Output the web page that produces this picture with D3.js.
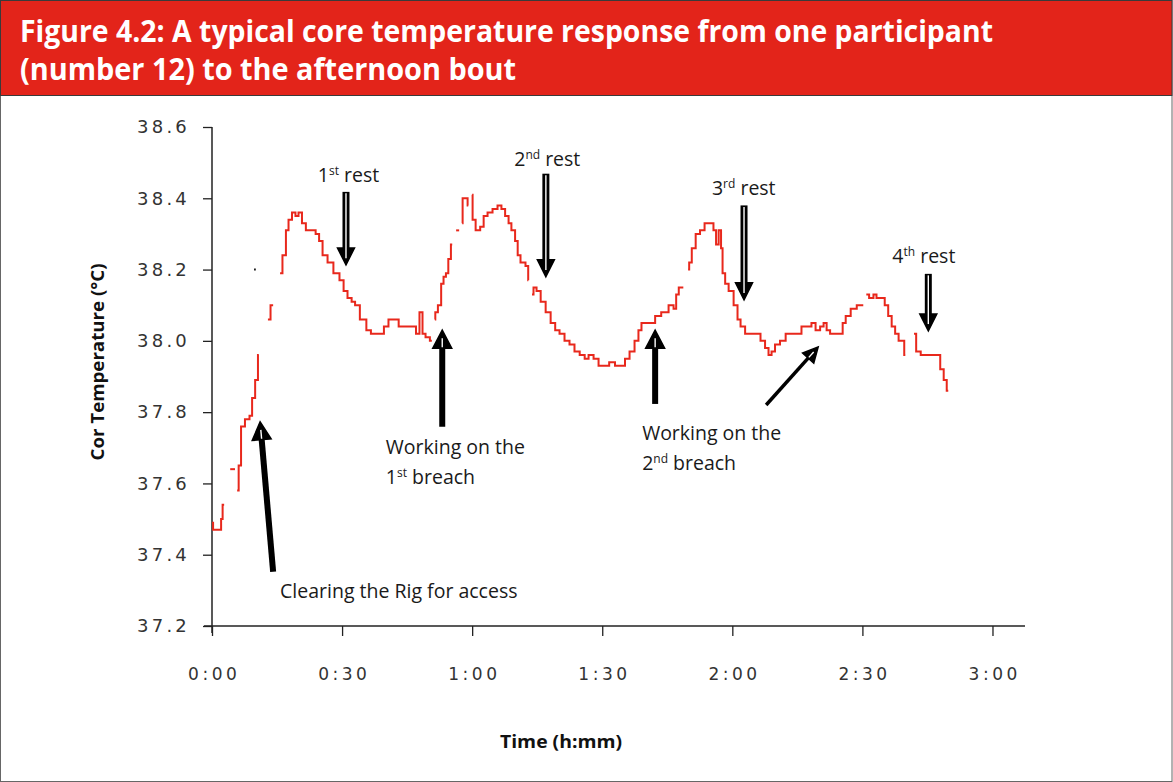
<!DOCTYPE html>
<html>
<head>
<meta charset="utf-8">
<script src="https://cdn.jsdelivr.net/npm/d3@7"></script>
<style>
  body { margin: 0; background: #fff; }
  .tick text { font-family: "DejaVu Sans", sans-serif; fill: #333; }
</style>
</head>
<body>
<svg id="chart" width="1173" height="782"></svg>
<script>
// title
const titleLines = [
  "Figure 4.2: A typical core temperature response from one participant",
  "(number 12) to the afternoon bout"
];

// axis ticks
const yTicks = [37.2, 37.4, 37.6, 37.8, 38.0, 38.2, 38.4, 38.6];
const xTicks = [0, 30, 60, 90, 120, 150, 180];   // minutes
const xTickLabels = ["0:00", "0:30", "1:00", "1:30", "2:00", "2:30", "3:00"];

// core temperature logger trace, [minutes, °C], broken where the logger dropped out
const coreTemp = [
  [[0, 37.49], [0.5, 37.47], [2.1, 37.47], [2.1, 37.50], [2.8, 37.54]],
  [[4.2, 37.64], [5.3, 37.64]],
  [[5.8, 37.58], [6.5, 37.65], [6.9, 37.76], [8.3, 37.78], [9.0, 37.79], [9.5, 37.84], [10.4, 37.89], [10.8, 37.96]],
  [[12.9, 38.06], [14.1, 38.10]],
  [[15.7, 38.19], [16.8, 38.24], [17.3, 38.31], [18.0, 38.34], [18.9, 38.36], [19.6, 38.35], [20.3, 38.36],
   [21.2, 38.33], [22.1, 38.31], [23.3, 38.31], [24.5, 38.30], [24.9, 38.28], [26.1, 38.24], [27.2, 38.22],
   [28.8, 38.19], [30.0, 38.17], [30.7, 38.14], [31.8, 38.12], [32.6, 38.11], [33.4, 38.10], [34.8, 38.06],
   [36.4, 38.03], [36.9, 38.02], [39.4, 38.02], [39.9, 38.04], [41.5, 38.06], [42.7, 38.06], [43.4, 38.04],
   [46.8, 38.04], [47.3, 38.02], [48.4, 38.08], [48.7, 38.02], [49.8, 38.01], [50.7, 38.00]],
  [[51.4, 38.06], [51.6, 38.08], [52.6, 38.10], [53.1, 38.16], [53.7, 38.18], [54.2, 38.19], [54.8, 38.23], [55.4, 38.27]],
  [[56.3, 38.31], [57.0, 38.31]],
  [[57.7, 38.33], [57.9, 38.40], [58.8, 38.40], [59.1, 38.38]],
  [[60.0, 38.41], [60.2, 38.34], [61.4, 38.31], [62.3, 38.32], [63.0, 38.35], [64.1, 38.36], [65.3, 38.37],
   [66.4, 38.38], [67.1, 38.37], [68.1, 38.35], [68.7, 38.33], [69.4, 38.31], [70.4, 38.28], [70.6, 38.24],
   [71.7, 38.22], [72.9, 38.21], [72.95, 38.17]],
  [[73.8, 38.13], [74.5, 38.15], [75.2, 38.14], [76.4, 38.11], [77.5, 38.08], [78.7, 38.05], [79.6, 38.03],
   [80.7, 38.02], [81.9, 38.00], [83.0, 37.99], [84.2, 37.97], [85.4, 37.96], [86.5, 37.95], [87.2, 37.96],
   [88.8, 37.95], [89.5, 37.93], [90.7, 37.93], [92.5, 37.94], [93.4, 37.93], [94.8, 37.93], [95.7, 37.95],
   [96.9, 37.97], [98.0, 38.00], [98.7, 38.03], [99.4, 38.05], [101.7, 38.05], [102.7, 38.07], [104.5, 38.08],
   [106.1, 38.10], [106.8, 38.09], [107.3, 38.13], [108.0, 38.15], [108.7, 38.15]],
  [[109.8, 38.20], [110.3, 38.22], [111.0, 38.26], [112.1, 38.30], [113.0, 38.31], [114.2, 38.33], [115.3, 38.33],
   [116.0, 38.31], [116.5, 38.27], [117.2, 38.31], [117.6, 38.26], [117.9, 38.19], [118.8, 38.16], [119.5, 38.14],
   [121.1, 38.10], [121.3, 38.06], [122.5, 38.04], [123.4, 38.02], [125.9, 38.02], [127.1, 38.00], [128.0, 37.98],
   [128.7, 37.96], [129.4, 37.97], [130.3, 37.99], [131.7, 38.00], [132.9, 38.02], [135.6, 38.02], [136.3, 38.04],
   [137.9, 38.04], [138.6, 38.05], [139.8, 38.03], [140.7, 38.04], [141.4, 38.05], [142.1, 38.03], [143.0, 38.02],
   [145.3, 38.02], [145.6, 38.05], [146.7, 38.07], [147.9, 38.09], [149.5, 38.10], [150.2, 38.10]],
  [[150.9, 38.13], [152.2, 38.12], [152.9, 38.13], [153.6, 38.12], [154.8, 38.12], [155.5, 38.10], [156.4, 38.07],
   [157.1, 38.04], [158.0, 38.02], [158.7, 38.00], [159.4, 38.00], [159.9, 37.96]],
  [[161.9, 38.02], [162.9, 37.97], [164.0, 37.96], [165.2, 37.96], [166.3, 37.96], [167.5, 37.96], [168.4, 37.92],
   [169.1, 37.89], [169.8, 37.86]]
];

// stray black mark near 0:10
const strayMarks = [[9.7, 38.20], [10.1, 38.20]];

// annotation text, anchored in data units (minutes, °C) at the first baseline
const notes = [
  { m: 24.4, t: 38.446, lines: [["1", "st", " rest"]] },
  { m: 69.7, t: 38.490, lines: [["2", "nd", " rest"]] },
  { m: 115.3, t: 38.408, lines: [["3", "rd", " rest"]] },
  { m: 156.9, t: 38.218, lines: [["4", "th", " rest"]] },
  { m: 40.1, t: 37.683, lines: [["Working on the"], ["1", "st", " breach"]] },
  { m: 99.2, t: 37.722, lines: [["Working on the"], ["2", "nd", " breach"]] },
  { m: 15.7, t: 37.279, lines: [["Clearing the Rig for access"]] }
];

// arrows: from -> to (tip), data units
const arrows = [
  { from: [30.9, 38.418], to: [30.9, 38.213], kind: "hollow" },
  { from: [77.0, 38.469], to: [77.0, 38.180], kind: "hollow" },
  { from: [122.7, 38.380], to: [122.7, 38.115], kind: "hollow" },
  { from: [165.2, 38.188], to: [165.2, 38.028], kind: "hollow" },
  { from: [53.1, 37.759], to: [53.1, 38.030], kind: "solid" },
  { from: [102.2, 37.823], to: [102.2, 38.030], kind: "solid" },
  { from: [127.8, 37.820], to: [139.8, 37.983], kind: "thin" },
  { from: [14.1, 37.352], to: [11.1, 37.773], kind: "solid" }
];

const svg = d3.select("#chart");
const W = 1173, H = 782;
const red = "#e3241a";

// frame + title band
svg.append("rect").attr("x", 0.5).attr("y", 0.5).attr("width", W - 1.5).attr("height", H - 1)
  .attr("fill", "#fff").attr("stroke", "#666");
svg.append("rect").attr("x", 0.5).attr("y", 0.5).attr("width", W - 1.5).attr("height", 95)
  .attr("fill", red).attr("stroke", "#3a3a3a");

const titleWidths = [973, 496];
svg.selectAll(".title").data(titleLines).enter()
  .append("text")
  .attr("class", "title")
  .attr("x", 20)
  .attr("y", (d, i) => 42 + i * 38)
  .attr("textLength", (d, i) => titleWidths[i])
  .attr("lengthAdjust", "spacingAndGlyphs")
  .attr("fill", "#fff")
  .style("font-family", "'Open Sans', sans-serif")
  .style("font-weight", 700)
  .style("font-size", "30px")
  .text(d => d);

// scales
const x = d3.scaleLinear().domain([0, 187.5]).range([212, 1025]);
const y = d3.scaleLinear().domain([37.2, 38.6]).range([626, 127]);

// y axis
const yAxis = svg.append("g")
  .attr("transform", `translate(${x(0)},0)`)
  .call(d3.axisLeft(y).tickValues(yTicks).tickSize(9).tickPadding(13).tickFormat(d3.format(".1f")));
yAxis.select(".domain").remove();
yAxis.selectAll(".tick line").attr("stroke", "#222").attr("stroke-width", 1.3);
yAxis.selectAll(".tick text").style("font-size", "18px").style("letter-spacing", "3.2px");
svg.append("line")
  .attr("x1", x(0)).attr("x2", x(0))
  .attr("y1", y(38.6)).attr("y2", y(37.2) + 7)
  .attr("stroke", "#222").attr("stroke-width", 1.5);

// x axis
const xAxis = svg.append("g")
  .attr("transform", `translate(0,${y(37.2)})`)
  .call(d3.axisBottom(x).tickValues(xTicks).tickSize(10).tickPadding(32)
    .tickFormat((d, i) => xTickLabels[i]));
xAxis.select(".domain").remove();
xAxis.selectAll(".tick line").attr("stroke", "#222").attr("stroke-width", 1.3);
xAxis.selectAll(".tick text").style("font-size", "17px").style("letter-spacing", "3.5px").attr("dx", "1.7px");
svg.append("line")
  .attr("x1", x(0) - 8).attr("x2", x(187.5))
  .attr("y1", y(37.2)).attr("y2", y(37.2))
  .attr("stroke", "#222").attr("stroke-width", 1.5);

// axis titles
svg.append("text")
  .attr("transform", `translate(104,362) rotate(-90)`)
  .attr("text-anchor", "middle")
  .attr("textLength", 197)
  .attr("lengthAdjust", "spacingAndGlyphs")
  .style("font-family", "'Open Sans', sans-serif")
  .style("font-weight", 700)
  .style("font-size", "18.5px")
  .attr("fill", "#111")
  .text("Cor Temperature (°C)");

svg.append("text")
  .attr("x", 561).attr("y", 748)
  .attr("text-anchor", "middle")
  .attr("textLength", 122)
  .attr("lengthAdjust", "spacingAndGlyphs")
  .style("font-family", "'Open Sans', sans-serif")
  .style("font-weight", 700)
  .style("font-size", "18.5px")
  .attr("fill", "#111")
  .text("Time (h:mm)");

// temperature trace
const line = d3.line()
  .x(d => x(d[0]))
  .y(d => y(d[1]))
  .curve(d3.curveStep);

svg.append("g").selectAll("path")
  .data(coreTemp).enter()
  .append("path")
  .attr("d", line)
  .attr("fill", "none")
  .attr("stroke", "#e8281c")
  .attr("stroke-width", 2)
  .attr("stroke-linejoin", "miter");

svg.append("path")
  .attr("d", d3.line().x(d => x(d[0])).y(d => y(d[1]))(strayMarks))
  .attr("stroke", "#111").attr("stroke-width", 2);

// arrows
const arrowStyle = {
  hollow: { shaft: 7, head: 17, headLen: 17 },
  solid: { shaft: 6, head: 19, headLen: 18 },
  thin: { shaft: 3.5, head: 15, headLen: 15 }
};

const arrowG = svg.append("g");
arrows.forEach(a => {
  const x1 = x(a.from[0]), y1 = y(a.from[1]);
  const x2 = x(a.to[0]), y2 = y(a.to[1]);
  const len = Math.hypot(x2 - x1, y2 - y1);
  const ang = Math.atan2(y2 - y1, x2 - x1) * 180 / Math.PI;
  const s = arrowStyle[a.kind];
  const g = arrowG.append("g").attr("transform", `translate(${x2},${y2}) rotate(${ang})`);
  g.append("line")
    .attr("x1", -len).attr("x2", -s.headLen + 1)
    .attr("y1", 0).attr("y2", 0)
    .attr("stroke", "#000").attr("stroke-width", s.shaft);
  g.append("path")
    .attr("d", `M0,0 L${-s.headLen},${-s.head / 2} L${-s.headLen},${s.head / 2} Z`)
    .attr("fill", "#000").attr("stroke", "#000").attr("stroke-width", 1.5).attr("stroke-linejoin", "miter");
  if (a.kind === "hollow") {
    g.append("line")
      .attr("x1", -len + 1.5).attr("x2", -s.headLen * 0.4)
      .attr("y1", 0).attr("y2", 0)
      .attr("stroke", "#fff").attr("stroke-width", 1.4);
  } else {
    g.append("line")
      .attr("x1", -s.headLen + 1).attr("x2", -s.headLen * 0.45)
      .attr("y1", 0).attr("y2", 0)
      .attr("stroke", "#fff").attr("stroke-width", 1.4);
  }
});

// annotation text
const noteG = svg.append("g")
  .style("font-family", "'Open Sans', sans-serif")
  .style("font-size", "19.5px")
  .attr("fill", "#1a1a1a");

notes.forEach(n => {
  const t = noteG.append("text").attr("x", x(n.m)).attr("y", y(n.t));
  n.lines.forEach((parts, li) => {
    t.append("tspan").attr("x", x(n.m)).attr("dy", li === 0 ? 0 : 30.5).text(parts[0]);
    if (parts.length > 1) {
      t.append("tspan").attr("dy", -7).style("font-size", "12px").text(parts[1]);
      t.append("tspan").attr("dy", 7).text(parts[2]);
    }
  });
});
</script>
</body>
</html>
